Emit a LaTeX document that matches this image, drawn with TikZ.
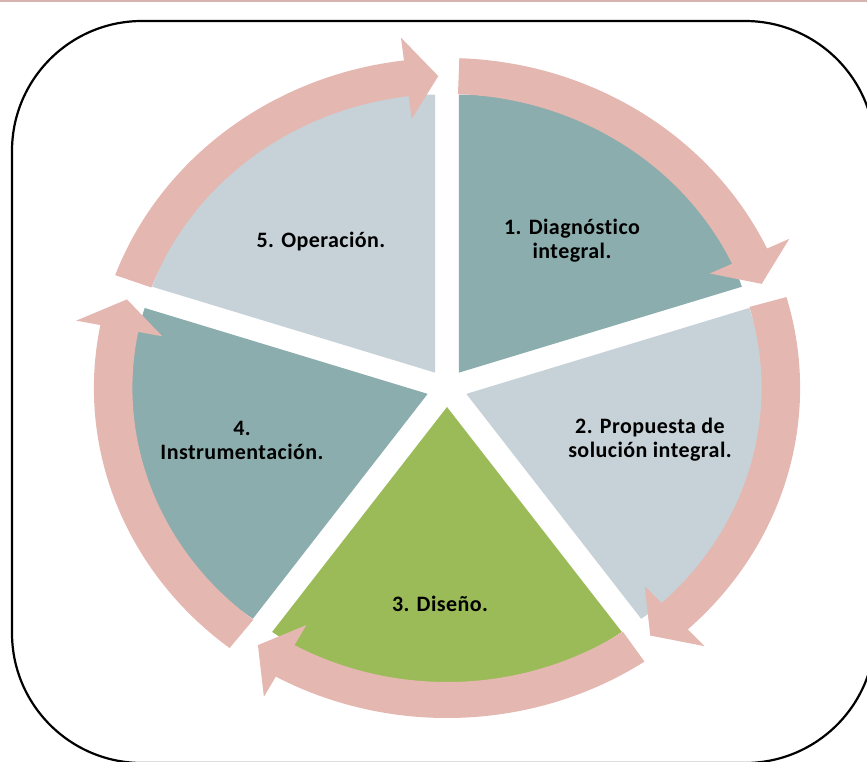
\documentclass[tikz,border=0pt]{standalone}
\usepackage{fontspec}
\setmainfont{Carlito}[Ligatures={NoCommon}, LetterSpace=2]
\definecolor{ringpink}{HTML}{E4B7B0}
\definecolor{secteal}{HTML}{8CADAD}
\definecolor{seclight}{HTML}{C6D2D8}
\definecolor{secgreen}{HTML}{9BBB59}
\definecolor{topline}{HTML}{D8B4B0}
\tikzset{
  lbl/.style={align=center, inner sep=0pt, font=\bfseries\fontsize{22}{24}\selectfont, text=black},
  frame/.style={draw=black, line width=2.2pt, rounded corners=130pt},
}
\newcommand{\mysector}[2]{%
  \fill[#2] (#1:19) -- ++(#1+36:278) arc[start angle=#1+36, end angle=#1-36, radius=278] -- cycle;}
\newcommand{\ringarrow}[3]{%
  \fill[ringpink] (#1:330) arc[start angle=#1, end angle=#2, radius=330] -- (#2:353) -- (#3:312) -- (#2:271) -- (#2:294) arc[start angle=#2, end angle=#1, radius=294] -- cycle;}
\begin{document}
\begin{tikzpicture}[x=1pt, y=1pt]
\useasboundingbox (0,0) rectangle (867,-761);
\draw[topline, line width=1.5pt] (0,-0.75) -- (867,-0.75);
\begin{scope}
\clip (0,0) rectangle (867,-761);
\draw[frame] (12,-21) rectangle (875,-763);
\end{scope}
\begin{scope}[shift={(447,-388)}, xscale=1.07]
  \mysector{54}{secteal}
  \mysector{-18}{seclight}
  \mysector{-90}{secgreen}
  \mysector{-162}{secteal}
  \mysector{126}{seclight}
  \ringarrow{88}{25}{19.5}
  \ringarrow{16}{-47}{-52.5}
  \ringarrow{-56}{-119}{-124.5}
  \ringarrow{-128}{-191}{-196.5}
  \ringarrow{160}{97}{91.5}
\end{scope}
\node[lbl] (t1) at (572,-241) {1. Diagnóstico\\integral.};
\node[lbl] (t2) at (650,-440) {2. Propuesta de\\solución integral.};
\node[lbl] (t3) at (440,-604) {3. Diseño.};
\node[lbl] (t4) at (242,-440) {4.\\Instrumentación.};
\node[lbl] (t5) at (321,-242) {5. Operación.};
\end{tikzpicture}
\end{document}
